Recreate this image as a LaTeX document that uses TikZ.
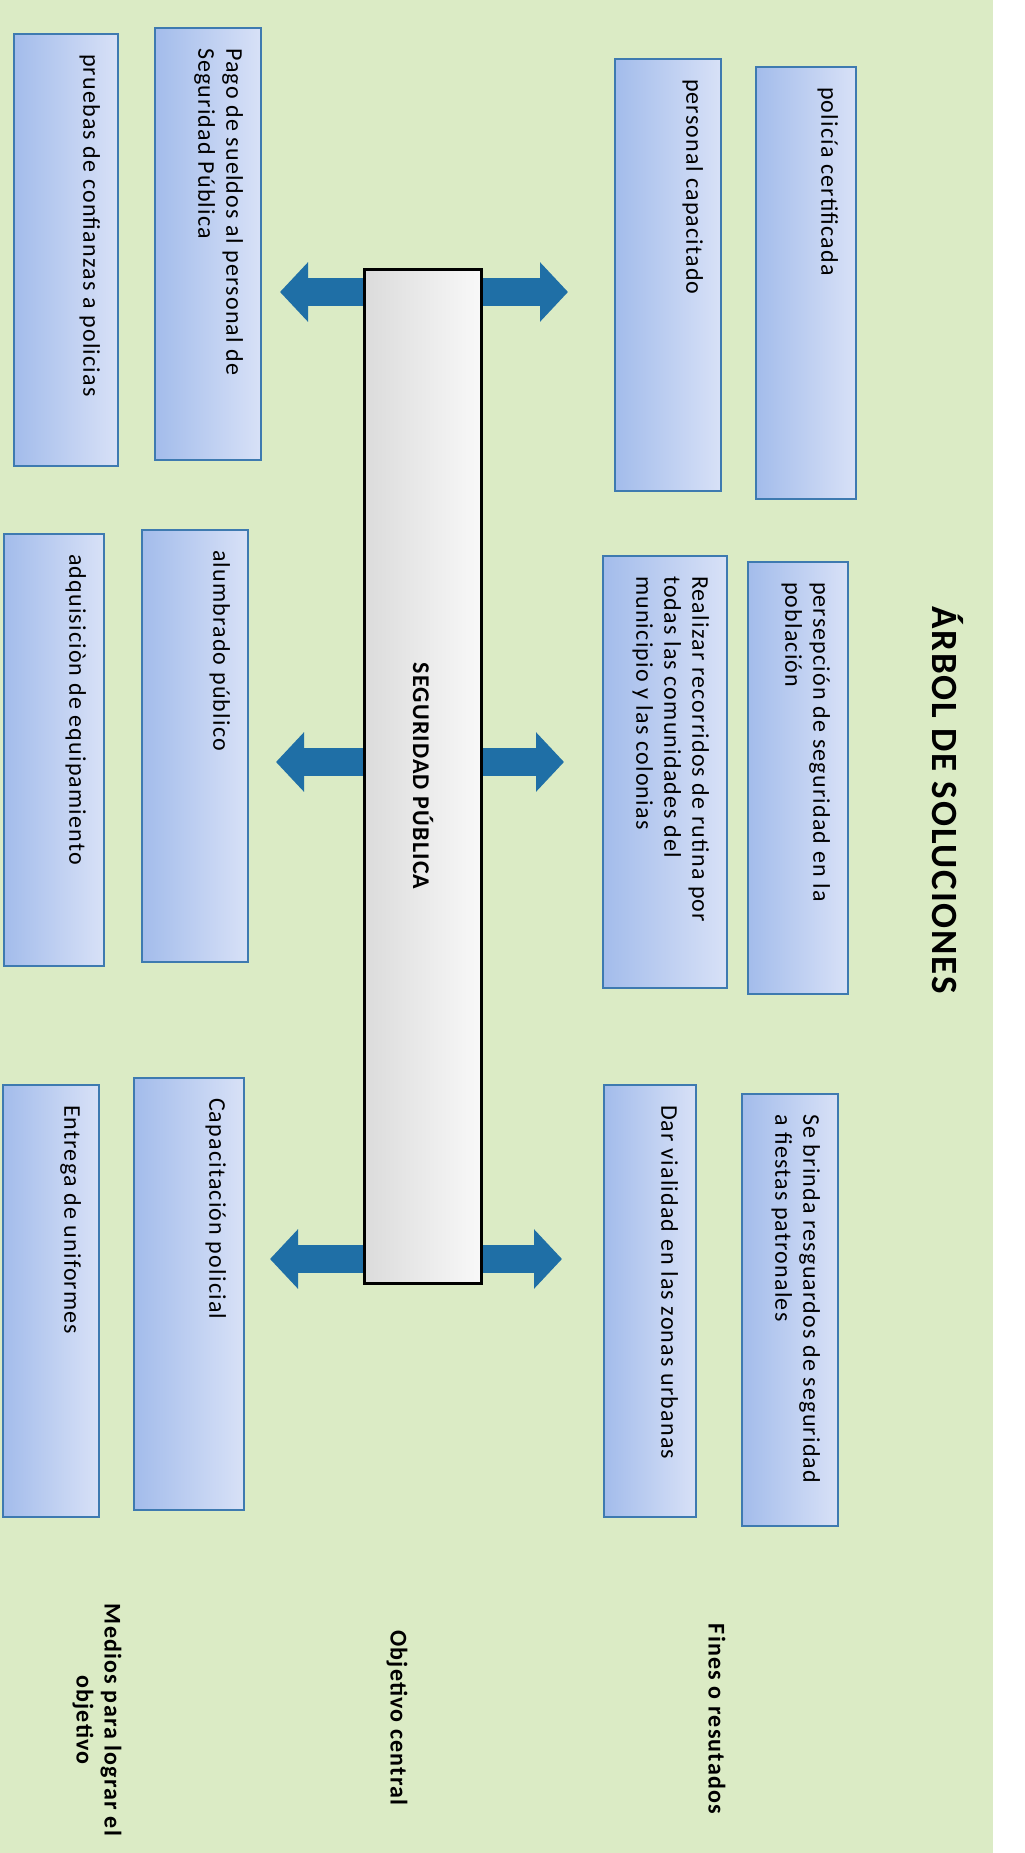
\documentclass[tikz,border=0pt]{standalone}
\usepackage{fontspec}
\setmainfont{Carlito}[LetterSpace=5]
\usetikzlibrary{positioning, arrows.meta}
\definecolor{fondoverde}{RGB}{219,235,197}
\definecolor{cajaclaro}{RGB}{216,225,247}
\definecolor{cajaoscuro}{RGB}{163,188,235}
\definecolor{cajaborde}{RGB}{62,122,176}
\definecolor{flechaazul}{RGB}{31,111,166}
\pgfdeclarelayer{fondo}
\pgfsetlayers{fondo,main}
\tikzset{
  caja/.style={rotate=-90, draw=cajaborde, line width=1pt, left color=cajaoscuro, right color=cajaclaro,
    inner xsep=10pt, inner ysep=9pt, font=\fontsize{12}{14}\selectfont,
    execute at begin node={\begin{minipage}[c][#1][t]{196pt}\raggedright},
    execute at end node={\end{minipage}}},
  caja/.default=34pt,
  barra/.style={rotate=-90, draw=black, line width=1.5pt, left color=gray!28, right color=gray!5,
    minimum width=507pt, minimum height=58.5pt, font=\bfseries\fontsize{12}{14}\selectfont},
  etiqueta/.style={rotate=-90, font=\bfseries\fontsize{12}{14}\selectfont, align=center},
  flecha/.style={draw=flechaazul, line width=14pt, -{Triangle[length=14pt, width=29pt]}},
}
\begin{document}
\begin{tikzpicture}[x=0.5pt, y=-0.5pt]
\useasboundingbox (0,0) rectangle (1024,1853);
\begin{pgfonlayer}{fondo}
\fill[fondoverde] (0,0) rectangle (993,1853);
\end{pgfonlayer}
\node[etiqueta, font=\bfseries\fontsize{18.5}{22}\selectfont] (titulo) at (948,800) {ÁRBOL DE SOLUCIONES};
\node[barra] (obj) at (423,776) {SEGURIDAD PÚBLICA};
\node[caja=32pt] (f1) at (806,283) {policía certificada};
\node[caja=35pt] (f2) at (668,275) {personal capacitado};
\node[caja=35pt] (m1) at (208,244) {Pago de sueldos al personal de\\Seguridad Pública};
\node[caja=34pt] (m2) at (66,250) {pruebas de confianzas a policias};
\node[caja=32pt] (f3) at (798,778) {persepción de seguridad en la\\población};
\node[caja=44pt] (f4) at (665,772) {Realizar recorridos de rutina por\\todas las comunidades del\\municipio y las colonias};
\node[caja=35pt] (m3) at (195,746) {alumbrado público};
\node[caja=32pt] (m4) at (54,750) {adquisiciòn de equipamiento};
\node[caja=30pt] (f5) at (790,1310) {Se brinda resguardos de seguridad\\a fiestas patronales};
\node[caja=28pt] (f6) at (650,1301) {Dar vialidad en las zonas urbanas};
\node[caja=37pt] (m5) at (189,1294) {Capacitación policial};
\node[caja=30pt] (m6) at (51,1301) {Entrega de uniformes};
\node[etiqueta] (fines) at (717,1719) {Fines o resutados};
\node[etiqueta] (central) at (397,1718) {Objetivo central};
\node[etiqueta] (medios) at (97,1720) {Medios para lograr el\\objetivo};
\coordinate (d1) at (568,292);
\coordinate (i1) at (280,292);
\coordinate (d2) at (564,762);
\coordinate (i2) at (276,762);
\coordinate (d3) at (562,1259);
\coordinate (i3) at (270,1259);
\begin{pgfonlayer}{fondo}
\draw[flecha] (obj.north |- d1) -- (d1);
\draw[flecha] (obj.south |- i1) -- (i1);
\draw[flecha] (obj.north |- d2) -- (d2);
\draw[flecha] (obj.south |- i2) -- (i2);
\draw[flecha] (obj.north |- d3) -- (d3);
\draw[flecha] (obj.south |- i3) -- (i3);
\end{pgfonlayer}
\end{tikzpicture}
\end{document}
